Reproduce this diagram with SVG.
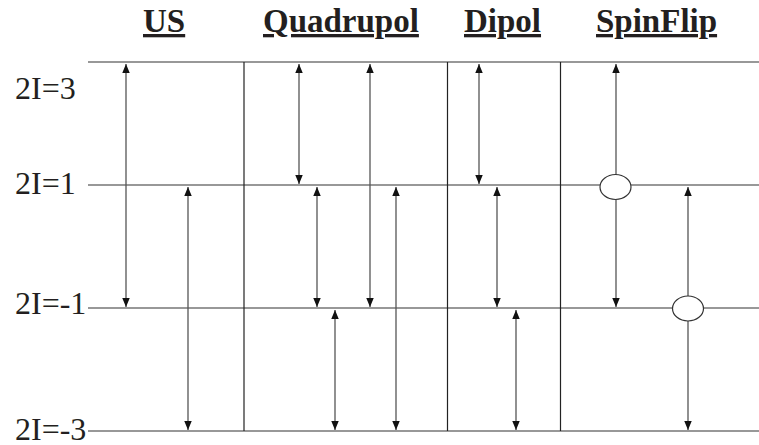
<svg xmlns="http://www.w3.org/2000/svg" width="759" height="445" viewBox="0 0 759 445">
<style>
.lvl{stroke:#333;stroke-width:1.2;fill:none}
.div{stroke:#222;stroke-width:1.2;fill:none}
.arr{stroke:#555;stroke-width:1.3;fill:none;marker-start:url(#ah);marker-end:url(#ah)}
.lab{font-family:"Liberation Serif","Times New Roman",serif;font-size:32px;fill:#231f20}
.hdr{font-family:"Liberation Serif","Times New Roman",serif;font-size:33px;font-weight:bold;fill:#231f20;text-decoration:underline}
.ell{fill:#fff;stroke:#333;stroke-width:1.2}
</style>
<defs>
<marker id="ah" markerUnits="userSpaceOnUse" markerWidth="10" markerHeight="8" refX="9" refY="3.75" orient="auto-start-reverse">
<path d="M0,0 L9,3.75 L0,7.5 z" fill="#111"/>
</marker>
</defs>
<rect width="759" height="445" fill="#fff"/>
<g id="headers">
<text class="hdr" x="143" y="32">US</text>
<text class="hdr" x="263" y="32">Quadrupol</text>
<text class="hdr" x="464" y="32">Dipol</text>
<text class="hdr" x="596" y="32">SpinFlip</text>
</g>
<g id="levels">
<g id="level-3"><text class="lab" x="15" y="99">2I=3</text><line class="lvl" x1="88" y1="62" x2="759" y2="62"/></g>
<g id="level-1"><text class="lab" x="15" y="194">2I=1</text><line class="lvl" x1="88" y1="185" x2="759" y2="185"/></g>
<g id="level-m1"><text class="lab" x="15" y="314">2I=-1</text><line class="lvl" x1="88" y1="308" x2="759" y2="308"/></g>
<g id="level-m3"><text class="lab" x="15" y="440">2I=-3</text><line class="lvl" x1="88" y1="431" x2="759" y2="431"/></g>
</g>
<g id="dividers">
<line class="div" x1="244" y1="62" x2="244" y2="431"/>
<line class="div" x1="447.5" y1="62" x2="447.5" y2="431"/>
<line class="div" x1="560.5" y1="62" x2="560.5" y2="431"/>
</g>
<g id="connectors">
<line class="arr" x1="126" y1="64" x2="126" y2="307"/>
<line class="arr" x1="188" y1="187" x2="188" y2="430"/>
<line class="arr" x1="299" y1="64" x2="299" y2="184"/>
<line class="arr" x1="317" y1="187" x2="317" y2="307"/>
<line class="arr" x1="370" y1="64" x2="370" y2="307"/>
<line class="arr" x1="335" y1="310" x2="335" y2="430"/>
<line class="arr" x1="396" y1="187" x2="396" y2="430"/>
<line class="arr" x1="479" y1="64" x2="479" y2="184"/>
<line class="arr" x1="497" y1="187" x2="497" y2="307"/>
<line class="arr" x1="516" y1="310" x2="516" y2="430"/>
<line class="arr" x1="616" y1="64" x2="616" y2="307"/>
<line class="arr" x1="688" y1="187" x2="688" y2="430"/>
</g>
<g id="spinflip-nodes">
<ellipse class="ell" cx="615.5" cy="187" rx="15.5" ry="12.5"/>
<ellipse class="ell" cx="688" cy="308.5" rx="15.5" ry="12.5"/>
</g>
</svg>
